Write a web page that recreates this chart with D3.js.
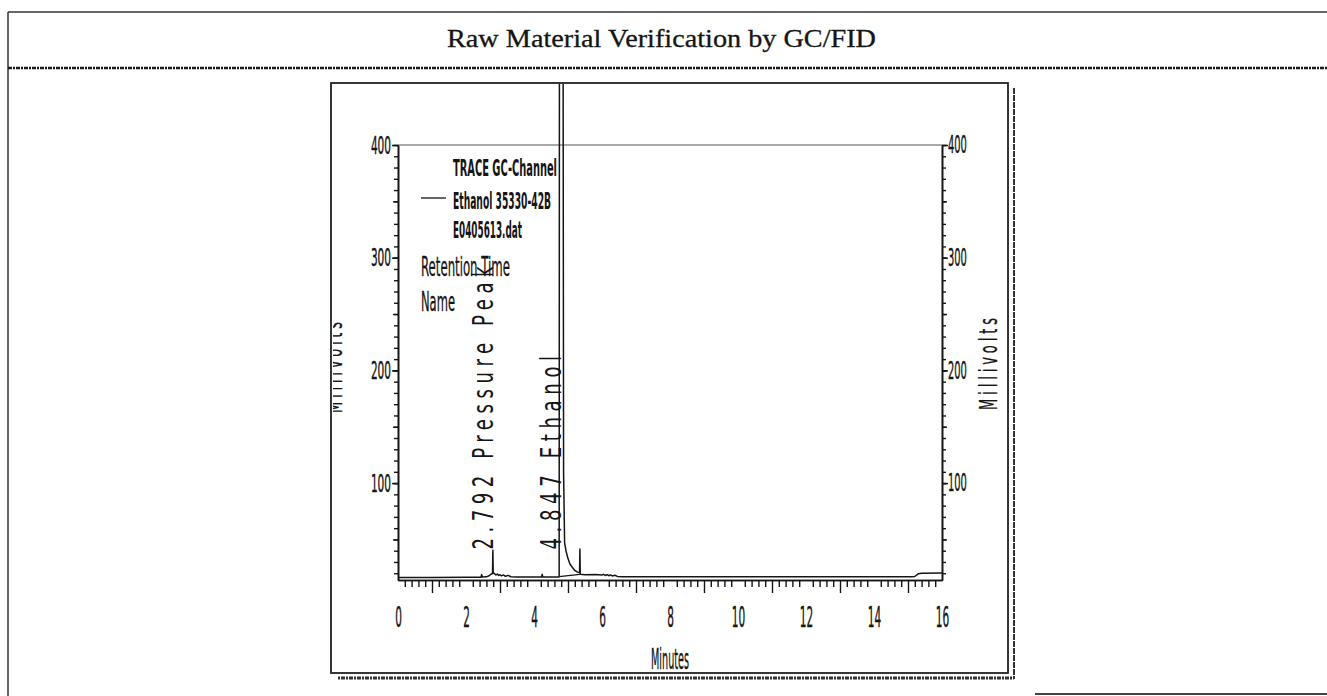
<!DOCTYPE html>
<html>
<head>
<meta charset="utf-8">
<script src="https://cdn.jsdelivr.net/npm/d3@7"></script>
<style>
  html, body { margin: 0; padding: 0; background: #fff; }
  svg { display: block; }
</style>
</head>
<body>
<script>
// ---------------- data ----------------
const chartTitle = "Raw Material Verification by GC/FID";
const xTickLabels = [0, 2, 4, 6, 8, 10, 12, 14, 16];
const yTickLabels = [100, 200, 300, 400];
const xAxisTitle = "Minutes";
const yAxisTitle = "Millivolts";

// chromatogram trace (minutes, millivolts)
const times = [0, 1.0, 2.0, 2.44, 2.46, 2.48, 2.6, 2.68, 2.74, 2.78, 2.79, 2.80, 2.84, 2.88, 2.92, 2.96, 3.0, 3.04, 3.1, 3.16, 3.24, 3.32, 3.5, 4.0, 4.22, 4.24, 4.26, 4.6, 4.72, 4.74, 4.755, 4.84, 4.87, 4.90, 4.94, 5.0, 5.06, 5.12, 5.2, 5.28, 5.34, 5.35, 5.36, 5.5, 5.8, 6.0, 6.05, 6.1, 6.15, 6.2, 6.25, 6.3, 6.38, 6.45, 6.6, 8, 10, 12, 14, 15.1, 15.2, 15.3, 15.4, 16];
const millivolts = [16.3, 16.3, 16.4, 16.4, 18.8, 16.6, 16.8, 17.8, 19.3, 19.8, 40.5, 20.8, 19.4, 18.5, 19.3, 18.1, 18.7, 17.7, 18.5, 17.3, 18.1, 16.9, 16.6, 16.6, 16.6, 19.0, 16.6, 16.6, 16.7, 17.0, 900, 900, 110, 47, 40, 33, 28, 25.5, 22.5, 21, 20.6, 41.5, 19.0, 18.6, 18.8, 18.4, 19.0, 18.0, 18.8, 17.8, 18.6, 17.6, 18.2, 17.2, 16.8, 16.8, 16.8, 16.8, 16.8, 16.9, 17.1, 19.5, 20, 20.2];

// integration baseline drawn under the ethanol peak
const dropTimes = [4.74, 5.35];
const dropMillivolts = [17.0, 19.0];

// peak annotations
const peakTimes = [2.792, 4.847];
const peakNames = ["Pressure Peak", "Ethanol"];

// legend
const legendHeader = ["TRACE GC-Channel"];
const seriesNames = ["Ethanol 35330-42B"];
const dataFiles = ["E0405613.dat"];
const annotationKeys = ["Retention Time", "Name"];

// ---------------- drawing ----------------
const W = 1327, H = 696;
const narrow = "'Liberation Sans Narrow','Arial Narrow','DejaVu Sans Condensed','Liberation Sans',sans-serif";
const ink = "#151515";

const svg = d3.select("body").append("svg").attr("width", W).attr("height", H);
svg.append("rect").attr("width", W).attr("height", H).attr("fill", "#fff");

// page frame
svg.append("line").attr("x1", 8).attr("x2", W).attr("y1", 12).attr("y2", 12).attr("stroke", "#333").attr("stroke-width", 1.5);
svg.append("line").attr("x1", 8).attr("x2", 8).attr("y1", 12).attr("y2", H).attr("stroke", "#333").attr("stroke-width", 1.5);
svg.append("line").attr("x1", 1035).attr("x2", W).attr("y1", 694).attr("y2", 694).attr("stroke", "#444").attr("stroke-width", 2);
svg.append("line").attr("x1", 8).attr("x2", W).attr("y1", 68).attr("y2", 68).attr("stroke", "#1a1a1a").attr("stroke-width", 2.5).attr("stroke-dasharray", "4,1,2,1");

// title
svg.append("text").attr("x", 447).attr("y", 47)
  .attr("font-family", "'Liberation Serif','Times New Roman',serif").attr("font-size", 25)
  .attr("fill", ink).attr("stroke", ink).attr("stroke-width", 0.3)
  .attr("textLength", 429).attr("lengthAdjust", "spacingAndGlyphs")
  .text(chartTitle);

// inner chart box
const box = {x0: 331, y0: 83, x1: 1008, y1: 673};
svg.append("rect").attr("x", box.x0).attr("y", box.y0).attr("width", box.x1 - box.x0).attr("height", box.y1 - box.y0)
  .attr("fill", "none").attr("stroke", "#222").attr("stroke-width", 1.8);
svg.append("line").attr("x1", 1014).attr("x2", 1014).attr("y1", 88).attr("y2", 679).attr("stroke", "#333").attr("stroke-width", 2).attr("stroke-dasharray", "6,1");
svg.append("line").attr("x1", 338).attr("x2", 1014).attr("y1", 678).attr("y2", 678).attr("stroke", "#333").attr("stroke-width", 3).attr("stroke-dasharray", "2,1,4,1");

// scales
const x = d3.scaleLinear().domain([0, 16]).range([398, 942]);
const y = d3.scaleLinear().domain([14, 400]).range([580, 145]);

const defs = svg.append("defs");
defs.append("clipPath").attr("id", "plotClip").append("rect")
  .attr("x", 398).attr("y", box.y0 + 1).attr("width", 544).attr("height", 580 - box.y0);
defs.append("clipPath").attr("id", "boxClip").append("rect")
  .attr("x", 333).attr("y", box.y0).attr("width", box.x1 - 333).attr("height", box.y1 - box.y0);

// plot frame top
svg.append("line").attr("x1", x(0)).attr("x2", x(16)).attr("y1", y(400)).attr("y2", y(400)).attr("stroke", "#555").attr("stroke-width", 1);

function styleLabels(sel, pitch, size) {
  sel.selectAll("text")
    .attr("font-family", narrow).attr("font-size", size).attr("fill", ink)
    .attr("stroke", ink).attr("stroke-width", 0.4)
    .each(function () {
      const s = this.textContent;
      d3.select(this).attr("textLength", s.length * pitch).attr("lengthAdjust", "spacingAndGlyphs");
    });
}

// x axis
const xMinor = d3.range(1, 80).map(i => i * 0.2).filter(v => Math.abs(v - Math.round(v)) > 1e-6);
const xOdd = d3.range(1, 16, 2);
const gx = svg.append("g").attr("transform", `translate(0,${y(14)})`);
gx.append("g").call(d3.axisBottom(x).tickValues(xMinor).tickSize(7).tickSizeOuter(0).tickFormat(""));
gx.append("g").call(d3.axisBottom(x).tickValues(xOdd).tickSize(13).tickSizeOuter(0).tickFormat(""));
const gxl = gx.append("g").call(d3.axisBottom(x).tickValues(xTickLabels).tickSize(0).tickSizeOuter(0).tickPadding(27).tickFormat(d3.format("d")));
gxl.select(".domain").remove();
styleLabels(gxl, 6.7, 28);
gx.selectAll("path,line").attr("stroke", ink).attr("stroke-width", 1.4);

// left axis
const yMinor = d3.range(20, 401, 10);
const yMid = d3.range(50, 401, 50);
const gy = svg.append("g").attr("transform", `translate(${x(0)},0)`);
gy.append("g").call(d3.axisLeft(y).tickValues(yMinor).tickSize(4).tickSizeOuter(0).tickFormat(""));
gy.append("g").call(d3.axisLeft(y).tickValues(yMid).tickSize(5).tickSizeOuter(0).tickFormat(""));
const gyl = gy.append("g").call(d3.axisLeft(y).tickValues(yTickLabels).tickSize(6).tickSizeOuter(0).tickPadding(1).tickFormat(d3.format("d")));
styleLabels(gyl, 6.7, 25);
gy.selectAll("path,line").attr("stroke", ink).attr("stroke-width", 1.4);

// right axis
const gr = svg.append("g").attr("transform", `translate(${x(16)},0)`);
gr.append("g").call(d3.axisRight(y).tickValues(yMinor).tickSize(4).tickSizeOuter(0).tickFormat(""));
gr.append("g").call(d3.axisRight(y).tickValues(yMid).tickSize(5).tickSizeOuter(0).tickFormat(""));
const grl = gr.append("g").call(d3.axisRight(y).tickValues(yTickLabels).tickSize(6).tickSizeOuter(0).tickPadding(0).tickFormat(d3.format("d")));
styleLabels(grl, 6.3, 24);
gr.selectAll("path,line").attr("stroke", ink).attr("stroke-width", 1.4);

// axis titles
svg.append("text").attr("x", x(8)).attr("y", 669).attr("text-anchor", "middle")
  .attr("font-family", narrow).attr("font-size", 28).attr("fill", ink)
  .attr("stroke", ink).attr("stroke-width", 0.3)
  .attr("textLength", 38).attr("lengthAdjust", "spacingAndGlyphs").text(xAxisTitle);
const ySquash = 0.6;
svg.append("text").attr("transform", `translate(997,410) rotate(-90) scale(${ySquash},1)`)
  .attr("font-family", narrow).attr("font-size", 24).attr("fill", ink)
  .attr("stroke", ink).attr("stroke-width", 0.3)
  .attr("textLength", 92 / ySquash).attr("lengthAdjust", "spacing").text(yAxisTitle);
svg.append("g").attr("clip-path", "url(#boxClip)")
  .append("text").attr("transform", `translate(342,413) rotate(-90) scale(${ySquash},1)`)
  .attr("font-family", narrow).attr("font-size", 24).attr("fill", ink)
  .attr("stroke", ink).attr("stroke-width", 0.3)
  .attr("textLength", 91 / ySquash).attr("lengthAdjust", "spacing").text(yAxisTitle);

// data trace
const trace = times.map((t, i) => [t, millivolts[i]]);
const drop = dropTimes.map((t, i) => [t, dropMillivolts[i]]);
const line = d3.line().x(d => x(d[0])).y(d => y(d[1]));
const gp = svg.append("g").attr("clip-path", "url(#plotClip)");
gp.append("path").datum(trace).attr("d", line).attr("fill", "none").attr("stroke", ink).attr("stroke-width", 1.5).attr("stroke-linejoin", "round");
gp.append("path").datum(drop).attr("d", line).attr("fill", "none").attr("stroke", ink).attr("stroke-width", 1.2);

// peak annotations (rotated, letter-spaced)
const peakSquash = 0.72;
peakTimes.forEach((t, i) => {
  const label = `${t.toFixed(3)} ${peakNames[i]}`;
  svg.append("text")
    .attr("transform", `translate(${x(t) - (i === 0 ? 0 : 2)},${y(41)}) rotate(-90) scale(${peakSquash},1)`)
    .attr("font-family", narrow).attr("font-size", 28).attr("fill", ink)
    .attr("textLength", label.length * 14.9 / peakSquash).attr("lengthAdjust", "spacing")
    .text(label);
});

// legend
const leg = svg.append("g").attr("font-family", narrow).attr("fill", ink);
leg.append("text").attr("x", 453).attr("y", 176).attr("font-size", 23).attr("font-weight", "bold")
  .attr("textLength", 104).attr("lengthAdjust", "spacingAndGlyphs").text(legendHeader[0]);
leg.append("line").attr("x1", 421).attr("x2", 446).attr("y1", 198).attr("y2", 198).attr("stroke", ink).attr("stroke-width", 1.3);
leg.append("text").attr("x", 453).attr("y", 209).attr("font-size", 23).attr("font-weight", "bold")
  .attr("textLength", 98).attr("lengthAdjust", "spacingAndGlyphs").text(seriesNames[0]);
leg.append("text").attr("x", 453).attr("y", 238).attr("font-size", 23).attr("font-weight", "bold")
  .attr("textLength", 69).attr("lengthAdjust", "spacingAndGlyphs").text(dataFiles[0]);
leg.append("text").attr("x", 421).attr("y", 276).attr("font-size", 26)
  .attr("stroke", ink).attr("stroke-width", 0.3)
  .attr("textLength", 89).attr("lengthAdjust", "spacingAndGlyphs").text(annotationKeys[0]);
leg.append("text").attr("x", 421).attr("y", 311).attr("font-size", 26)
  .attr("stroke", ink).attr("stroke-width", 0.3)
  .attr("textLength", 34).attr("lengthAdjust", "spacingAndGlyphs").text(annotationKeys[1]);
</script>
</body>
</html>
